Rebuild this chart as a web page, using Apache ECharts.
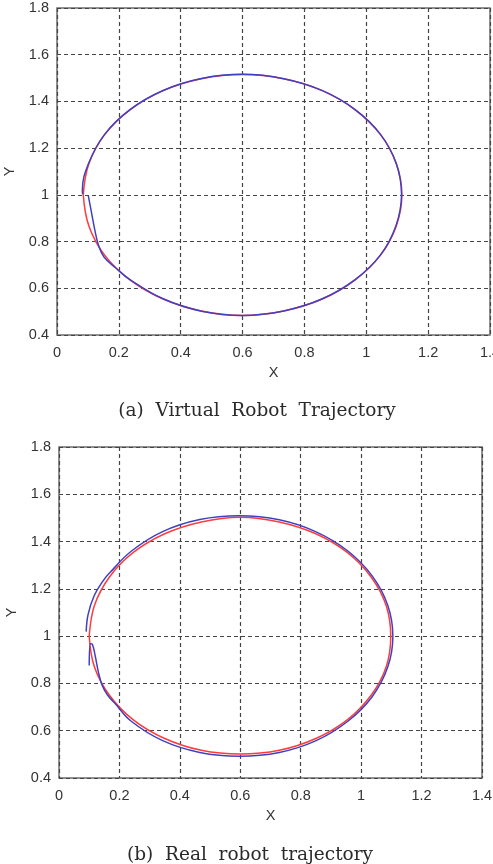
<!DOCTYPE html>
<html>
<head>
<meta charset="utf-8">
<script src="https://cdn.jsdelivr.net/npm/echarts@6/dist/echarts.min.js"></script>
<style>
  html, body { margin: 0; padding: 0; background: #fff; }
  #chart { width: 493px; height: 864px; }
</style>
</head>
<body>
<div id="chart"></div>
<script>
// (a) virtual robot: reference path (red) and robot path (blue)
const virtualRefX = [0.085, 0.103, 0.154, 0.236, 0.343, 0.467, 0.600, 0.733, 0.858, 0.964, 1.046, 1.097, 1.115,
  1.097, 1.046, 0.964, 0.858, 0.733, 0.600, 0.467, 0.343, 0.236, 0.154, 0.103, 0.085];
const virtualRefY = [1.000, 0.867, 0.742, 0.636, 0.554, 0.503, 0.484, 0.503, 0.554, 0.636, 0.742, 0.867, 1.000,
  1.133, 1.258, 1.364, 1.446, 1.497, 1.515, 1.497, 1.446, 1.364, 1.258, 1.133, 1.000];
const virtualRobotX = [0.101, 0.112, 0.123, 0.134, 0.152, 0.190, 0.236, 0.343, 0.467, 0.600, 0.733, 0.858, 0.964,
  1.046, 1.096, 1.114, 1.097, 1.046, 0.964, 0.858, 0.733, 0.600, 0.467, 0.343, 0.236, 0.154, 0.102, 0.082, 0.083];
const virtualRobotY = [0.998, 0.921, 0.845, 0.785, 0.734, 0.687, 0.637, 0.555, 0.502, 0.484, 0.503, 0.555, 0.637,
  0.743, 0.868, 1.000, 1.134, 1.259, 1.365, 1.446, 1.497, 1.516, 1.498, 1.447, 1.365, 1.259, 1.134, 1.020, 1.002];

// (b) real robot
const realRefX = [0.100, 0.117, 0.167, 0.246, 0.350, 0.471, 0.600, 0.729, 0.850, 0.954, 1.033, 1.083, 1.098,
  1.083, 1.033, 0.954, 0.850, 0.729, 0.600, 0.471, 0.350, 0.246, 0.167, 0.117, 0.100];
const realRefY = [1.000, 0.871, 0.750, 0.646, 0.567, 0.517, 0.501, 0.517, 0.567, 0.646, 0.750, 0.871, 1.000,
  1.129, 1.250, 1.354, 1.433, 1.483, 1.503, 1.483, 1.433, 1.354, 1.250, 1.129, 1.000];
const realRobotX = [0.100, 0.104, 0.110, 0.120, 0.130, 0.142, 0.160, 0.185, 0.238, 0.343, 0.466, 0.597, 0.729,
  0.851, 0.956, 1.037, 1.088, 1.105, 1.088, 1.037, 0.956, 0.851, 0.729, 0.597, 0.466, 0.343, 0.240, 0.168,
  0.147, 0.116, 0.096, 0.090];
const realRobotY = [0.876, 0.968, 0.966, 0.915, 0.850, 0.795, 0.752, 0.716, 0.641, 0.558, 0.508, 0.492, 0.508,
  0.558, 0.640, 0.745, 0.869, 1.000, 1.131, 1.254, 1.360, 1.441, 1.492, 1.509, 1.493, 1.442, 1.360, 1.268,
  1.236, 1.170, 1.090, 1.019];

const xTicks = [0, 1.4, 0.2];   // min, max, step
const yTicks = [0.4, 1.8, 0.2];
const captions = ['(a)  Virtual  Robot  Trajectory', '(b)  Real  robot  trajectory'];

const RED = '#ff3b3b';
const BLUE = '#4040c4';
const tickFont = { fontFamily: "'Liberation Sans', Arial, sans-serif", fontSize: 14.5, color: '#333' };
const captionFont = { fontFamily: "'DejaVu Serif', serif", fontSize: 18.5, fontWeight: 'normal', color: '#2a2a2a' };

function zip(xs, ys) {
  return xs.map((x, i) => [x, ys[i]]);
}

function makeX(gridIndex) {
  return {
    type: 'value', gridIndex: gridIndex,
    min: xTicks[0], max: xTicks[1], interval: xTicks[2],
    name: 'X', nameLocation: 'middle', nameGap: 30,
    nameTextStyle: tickFont,
    axisLine: { show: false },
    axisTick: { show: false },
    axisLabel: Object.assign({ margin: 10 }, tickFont),
    splitLine: { show: true, lineStyle: { color: '#444', type: [4, 3], width: 1.2 } }
  };
}

function makeY(gridIndex) {
  return {
    type: 'value', gridIndex: gridIndex,
    min: yTicks[0], max: yTicks[1], interval: yTicks[2],
    name: 'Y', nameLocation: 'middle', nameGap: 38,
    nameTextStyle: tickFont,
    axisLine: { show: false },
    axisTick: { show: false },
    axisLabel: Object.assign({ margin: 8 }, tickFont),
    splitLine: { show: true, lineStyle: { color: '#444', type: [4, 3], width: 1.2 } }
  };
}

function makeLine(data, color, idx) {
  return {
    type: 'line', data: data, xAxisIndex: idx, yAxisIndex: idx,
    smooth: 0.4, showSymbol: false, symbol: 'none',
    lineStyle: { color: color, width: 1.5 },
    silent: true, animation: false
  };
}

const gridBase = { show: true, borderColor: '#6e6e6e', borderWidth: 1.5, backgroundColor: 'transparent',
  containLabel: false, outerBoundsMode: 'none' };

const option = {
  backgroundColor: '#fff',
  animation: false,
  title: [
    { text: captions[0], left: 252, top: 397, textAlign: 'center', textStyle: captionFont },
    { text: captions[1], left: 245, top: 841, textAlign: 'center', textStyle: captionFont }
  ],
  grid: [
    Object.assign({ left: 57, top: 8, width: 433, height: 327 }, gridBase),
    Object.assign({ left: 59, top: 447, width: 423, height: 331 }, gridBase)
  ],
  xAxis: [makeX(0), makeX(1)],
  yAxis: [makeY(0), makeY(1)],
  series: [
    makeLine(zip(virtualRefX, virtualRefY), RED, 0),
    makeLine(zip(virtualRobotX, virtualRobotY), BLUE, 0),
    makeLine(zip(realRefX, realRefY), RED, 1),
    makeLine(zip(realRobotX, realRobotY), BLUE, 1)
  ]
};

const myChart = echarts.init(document.getElementById('chart'), null, { renderer: 'canvas' });
myChart.setOption(option);
</script>
</body>
</html>
